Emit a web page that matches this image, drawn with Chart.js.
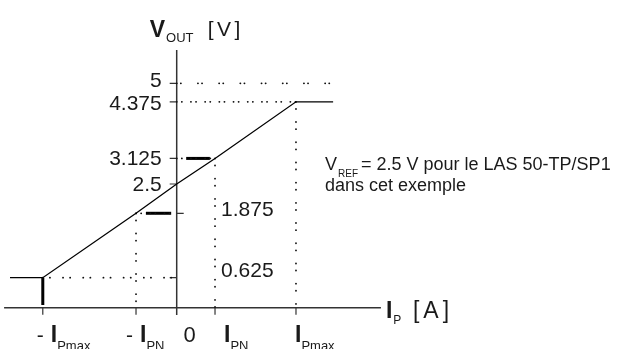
<!DOCTYPE html>
<html><head><meta charset="utf-8">
<script src="https://cdn.jsdelivr.net/npm/chart.js@4/dist/chart.umd.min.js"></script>
<style>html,body{margin:0;padding:0;background:#fff}#wrap{width:620px;height:349px;position:relative}</style>
</head><body><div id="wrap"><canvas id="c"></canvas></div>
<script>
// ---- data (schematic positions) ----
const xTickValues = [-3.39, -1.03, 0, 0.97, 3.02];
const xTickMain   = ['I', 'I', '0', 'I', 'I'];
const xTickSign   = ['-', '-', '', '', ''];
const xTickSub    = ['Pmax', 'PN', '', 'PN', 'Pmax'];
const yTickValues = [0.625, 1.967, 2.577, 3.11, 4.29, 4.675];
const yTickLabels = ['0.625', '1.875', '2.5', '3.125', '4.375', '5'];
const lineX = [-4.22, -3.39, -1.03, 0, 0.97, 3.02, 3.96];
const lineY = [0.625, 0.625, 1.967, 2.577, 3.11, 4.29, 4.29];
const xAxisRange = [-4.37, 5.17];
const yAxisRange = [-0.15, 5.37];
const fiveLineEnd = 3.88;
const thickX = [[-3.39, -3.39], [0.24, 0.84], [-0.78, -0.14]];
const thickY = [[0.625, 0.056], [3.11, 3.11], [1.967, 1.967]];

// ---- styles ----
const xLabelOffset = [8, 4, 13, 9, -1];   // px shift of label anchor
const yLabelLeft   = [false, false, true, true, true, true];
const yLabelDy     = [-6, -3, 1, 1, 2, -2];

const pts = (xs, ys) => xs.map((x, i) => ({x, y: ys[i]}));
const dotH = [0.1, 5, 0.1, 9];
const dotV = [0.1, 7, 0.1, 13];
function guide(xs, ys, dash) {
  return {data: pts(xs, ys), showLine: true, borderColor: '#111', borderWidth: 1.8,
    borderDash: dash, borderCapStyle: 'round', pointRadius: 0, fill: false};
}
const iNeg = 0, iNegPN = 1, iPN = 3, iMax = 4;
const datasets = [
  {data: pts(lineX, lineY), showLine: true, borderColor: '#000', borderWidth: 1.3, pointRadius: 0, fill: false},
  guide([0, fiveLineEnd], [yTickValues[5], yTickValues[5]], [0.1, 4, 0.1, 17]),
  guide([0, xTickValues[iMax]], [yTickValues[4], yTickValues[4]], dotH),
  guide([xTickValues[iMax], xTickValues[iMax]], [yTickValues[4], 0], dotV),
  guide([0, xTickValues[iPN]], [yTickValues[3], yTickValues[3]], dotH),
  guide([xTickValues[iPN], xTickValues[iPN]], [yTickValues[3], 0], dotV),
  guide([xTickValues[iNegPN], 0], [yTickValues[1], yTickValues[1]], dotH),
  guide([xTickValues[iNegPN], xTickValues[iNegPN]], [yTickValues[1], 0], dotV),
  guide([xTickValues[iNeg], 0], [yTickValues[0], yTickValues[0]], [0.1, 7, 0.1, 13]),
];
thickX.forEach((xs, i) => datasets.push({data: pts(xs, thickY[i]), showLine: true,
  borderColor: '#000', borderWidth: 3, pointRadius: 0, fill: false}));

const FONT = '"Liberation Sans", Arial, Helvetica, sans-serif';
function txt(ctx, s, x, y, size, bold, align, spacing) {
  ctx.font = (bold ? 'bold ' : '') + size + 'px ' + FONT;
  ctx.textAlign = align || 'left';
  ctx.letterSpacing = spacing ? spacing + 'px' : '0px';
  ctx.fillText(s, x, y);
  const w = ctx.measureText(s).width;
  ctx.letterSpacing = '0px';
  return w;
}

const deco = {
  id: 'deco',
  beforeDatasetsDraw(chart) {
    const ctx = chart.ctx, xs = chart.scales.x, ys = chart.scales.y;
    const x0 = xs.getPixelForValue(0), y0 = ys.getPixelForValue(0);
    ctx.save();
    ctx.strokeStyle = '#333'; ctx.lineWidth = 1.5;
    ctx.beginPath();
    ctx.moveTo(xs.getPixelForValue(xAxisRange[0]), y0);
    ctx.lineTo(xs.getPixelForValue(xAxisRange[1]), y0);
    ctx.moveTo(x0, ys.getPixelForValue(yAxisRange[0]));
    ctx.lineTo(x0, ys.getPixelForValue(yAxisRange[1]));
    ctx.stroke();
    ctx.lineWidth = 1.2;
    ctx.beginPath();
    xTickValues.forEach(v => { if (v !== 0) { const p = xs.getPixelForValue(v); ctx.moveTo(p, y0); ctx.lineTo(p, y0 + 7); }});
    yTickValues.forEach((v, i) => { const p = ys.getPixelForValue(v);
      if (i === 1) { ctx.moveTo(x0, p); ctx.lineTo(x0 + 7, p); } else { ctx.moveTo(x0 - 7, p); ctx.lineTo(x0, p); } });
    ctx.stroke();
    ctx.restore();
  },
  afterDraw(chart) {
    const ctx = chart.ctx, xs = chart.scales.x, ys = chart.scales.y;
    const x0 = xs.getPixelForValue(0), y0 = ys.getPixelForValue(0);
    ctx.save();
    ctx.fillStyle = '#1a1a1a';
    ctx.textBaseline = 'alphabetic';
    // x labels
    xTickValues.forEach((v, i) => {
      const p = xs.getPixelForValue(v) + xLabelOffset[i];
      const base = y0 + 34.5;
      if (xTickMain[i] === '0') { txt(ctx, '0', p, base, 22, false, 'center'); return; }
      if (xTickSign[i]) txt(ctx, xTickSign[i], p - 7, base, 21, false, 'right');
      const w = txt(ctx, xTickMain[i], p, base, 23, true, 'left');
      txt(ctx, xTickSub[i], p + w, base + 7.5, 13, false, 'left');
    });
    // y labels
    ctx.textBaseline = 'middle';
    yTickValues.forEach((v, i) => {
      const p = ys.getPixelForValue(v) + yLabelDy[i];
      if (yLabelLeft[i]) txt(ctx, yTickLabels[i], x0 - 15, p, 21, false, 'right');
      else txt(ctx, yTickLabels[i], xs.getPixelForValue(xTickValues[iPN]) + 6, p, 21, false, 'left');
    });
    ctx.textBaseline = 'alphabetic';
    // axis titles
    let w = txt(ctx, 'V', x0 - 27, 37, 23, true, 'left');
    txt(ctx, 'OUT', x0 - 27 + w + 1, 42, 13, false, 'left');
    txt(ctx, '[V]', x0 + 31, 36, 21, false, 'left', 3.5);
    const xe = xs.getPixelForValue(xAxisRange[1]);
    w = txt(ctx, 'I', xe + 5, y0 + 10, 23, true, 'left');
    txt(ctx, 'P', xe + 5 + w + 1, y0 + 16, 12, false, 'left');
    txt(ctx, '[A]', xe + 32, y0 + 10, 23, false, 'left', 4);
    // note
    const nx = xs.getPixelForValue(xTickValues[iMax]) + 29, ny = ys.getPixelForValue(yTickValues[2]) - 14;
    w = txt(ctx, 'V', nx, ny, 18, false, 'left');
    const w2 = txt(ctx, 'REF', nx + w + 1, ny + 7, 10, false, 'left');
    txt(ctx, '= 2.5 V pour le LAS 50-TP/SP1', nx + w + w2 + 4, ny, 18, false, 'left');
    txt(ctx, 'dans cet exemple', nx, ny + 21, 18, false, 'left');
    ctx.restore();
  }
};

new Chart(document.getElementById('c'), {
  type: 'scatter',
  data: {datasets},
  options: {
    responsive: true, maintainAspectRatio: false, animation: false,
    layout: {padding: 0},
    plugins: {legend: {display: false}, tooltip: {enabled: false}},
    scales: {
      x: {type: 'linear', display: false, min: -4.4734, max: 11.2228},
      y: {type: 'linear', display: false, min: -0.8604, max: 6.4104}
    }
  },
  plugins: [deco]
});
</script></body></html>
